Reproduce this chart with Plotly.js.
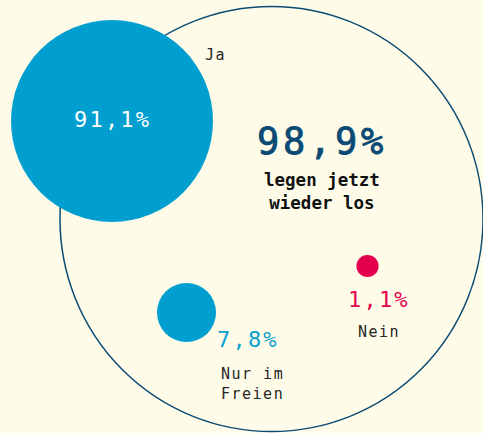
<!DOCTYPE html>
<html>
<head>
<meta charset="utf-8">
<script src="https://cdn.plot.ly/plotly-3.0.1.min.js"></script>
<style>
  html, body { margin: 0; padding: 0; background: #fefce9; }
  #chart { width: 483px; height: 433px; }
  .annotation-text { letter-spacing: 0.1em; }
  .annotation-text[style*="font-weight: 700"],
  .annotation-text[style*="font-weight: bold"] { letter-spacing: 0; }
  .annotation-text[style*="font-size: 37px"] { stroke: #0b4a74; stroke-width: 0.9px; }
</style>
</head>
<body>
<div id="chart"></div>
<script>
// ---- data ----
const categories = ["Ja", "Nur im Freien", "Nein"];
const categoryLabels = ["Ja", "Nur im<br>Freien", "Nein"];
const values = [91.1, 7.8, 1.1];
const totalValue = 98.9;
const totalLabel = "legen jetzt<br>wieder los";

// ---- layout (positions / styles) ----
const W = 483, H = 433;
const bubbleX = [112, 186.5, 367.5];
const bubbleY = [121, 312.5, 266];
const bubbleColors = ["#009fcf", "#009fcf", "#e3004f"];
const valueTextColors = ["#ffffff", "#0aa0d0", "#e3004f"];
const valuePos = [[112, 119], [248, 339], [379, 299.5]];
const catPos = [[215, 55], [252, 384], [379, 331.5]];
const outer = {x0: 60, x1: 483, y0: 6.5, y1: 431.5};
const totalPos = [322, 141.5];
const totalLabelPos = [322, 191];

const fmt = v => v.toFixed(1).replace('.', ',') + '%';
const monoFont = 'DejaVu Sans Mono, Liberation Mono, monospace';

const trace = {
  type: 'scatter', mode: 'markers',
  x: bubbleX, y: bubbleY,
  text: categories, hoverinfo: 'text',
  cliponaxis: false,
  marker: {
    size: values, sizemode: 'area', sizeref: 0.004465,
    color: bubbleColors, opacity: 1, line: {width: 0}
  }
};

const annotations = [];
values.forEach((v, i) => {
  annotations.push({
    x: valuePos[i][0], y: valuePos[i][1], xref: 'x', yref: 'y',
    text: fmt(v), showarrow: false, xanchor: 'center', yanchor: 'middle',
    font: {family: monoFont, size: 22, color: valueTextColors[i]}
  });
  annotations.push({
    x: catPos[i][0], y: catPos[i][1], xref: 'x', yref: 'y',
    text: categoryLabels[i], showarrow: false, xanchor: 'center', yanchor: 'middle',
    font: {family: monoFont, size: 15, color: '#262626'}
  });
});
annotations.push({
  x: totalPos[0], y: totalPos[1], xref: 'x', yref: 'y',
  text: fmt(totalValue), showarrow: false, xanchor: 'center', yanchor: 'middle',
  font: {family: monoFont, size: 37, color: '#0b4a74'}
});
annotations.push({
  x: totalLabelPos[0], y: totalLabelPos[1], xref: 'x', yref: 'y',
  text: totalLabel, showarrow: false, xanchor: 'center', yanchor: 'middle',
  font: {family: monoFont, size: 17.5, color: '#111111', weight: 700}
});

const layout = {
  width: W, height: H,
  margin: {l: 0, r: 0, t: 0, b: 0, pad: 0},
  paper_bgcolor: '#fefce9', plot_bgcolor: '#fefce9',
  showlegend: false,
  xaxis: {range: [0, W], visible: false, fixedrange: true},
  yaxis: {range: [H, 0], visible: false, fixedrange: true},
  shapes: [{
    type: 'circle', xref: 'x', yref: 'y', layer: 'below',
    x0: outer.x0, x1: outer.x1, y0: outer.y0, y1: outer.y1,
    line: {color: '#0b4a74', width: 1.5}, fillcolor: 'rgba(0,0,0,0)'
  }],
  annotations: annotations
};

Plotly.newPlot('chart', [trace], layout, {displayModeBar: false, staticPlot: true});
</script>
</body>
</html>
